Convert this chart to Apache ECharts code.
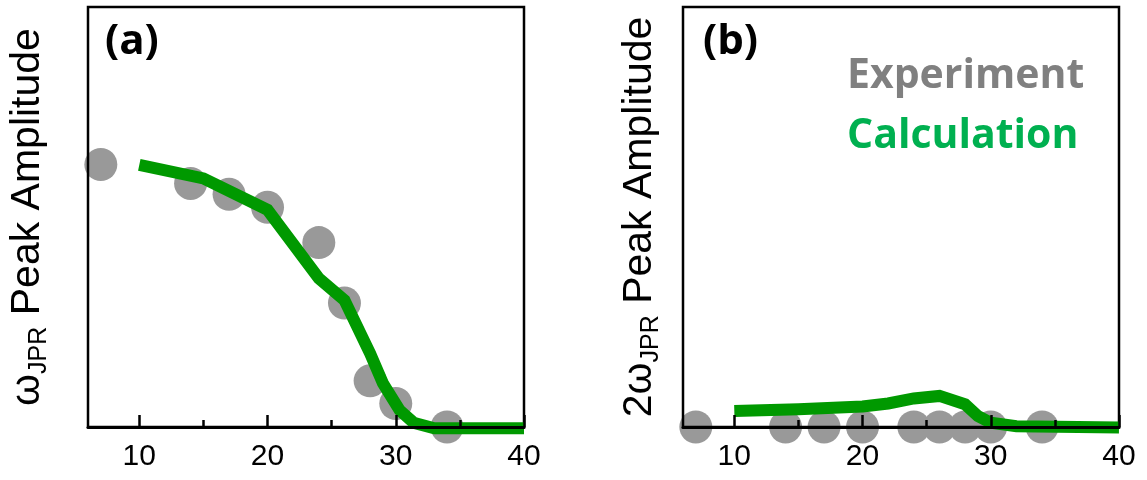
<!DOCTYPE html>
<html>
<head>
<meta charset="utf-8">
<script src="https://cdn.jsdelivr.net/npm/echarts@6/dist/echarts.min.js"></script>
<style>
  html, body { margin: 0; padding: 0; background: #fff; }
  #chart { width: 1147px; height: 480px; }
</style>
</head>
<body>
<div id="chart"></div>
<script>
// experiment points (same temperatures in both panels)
const xExp = [7, 14, 17, 20, 24, 26, 28, 30, 34];
const expA = [62.5, 58.0, 55.4, 52.3, 43.9, 29.5, 11.0, 5.6, 0];
const expB = [0, 0, 0, 0, 0, 0, 0, 0, 0];

// calculation curves
const xCalcA = [10, 15, 20, 24, 26, 28, 29, 30.3, 31.4, 33, 40];
const calcA = [62.4, 59.2, 51.7, 35.4, 30.2, 17.5, 10.4, 4.0, 1.0, -0.3, -0.3];
const xCalcB = [10, 15, 20, 22, 24, 26, 28, 29, 30, 32, 40];
const calcB = [3.8, 4.2, 4.9, 5.6, 6.8, 7.4, 5.4, 2.6, 1.0, 0.2, -0.1];

// x axis: range and ticks
const xMin = 6, xMax = 40;
const majorTicks = [10, 20, 30, 40];
const minorTicks = [15, 25, 35];
// one category per unit, only used to place the ticks
const tickCats = [];
for (let v = xMin; v <= xMax; v++) tickCats.push(String(v));

const pairs = (xs, ys) => xs.map((x, i) => [x, ys[i]]);

const chart = echarts.init(document.getElementById('chart'));

const sansFont = 'Liberation Sans, Arial, sans-serif';
const boldFont = 'Open Sans, sans-serif';

const yNameRich = {
  n: { fontSize: 41, fontFamily: sansFont, color: '#000' },
  w: { fontSize: 41, fontFamily: sansFont, color: '#000' },
  s: { fontSize: 25, fontFamily: sansFont, color: '#000', padding: [23, 0, 0, 0] }
};

function grid(left, right) {
  return {
    left: left, right: right, top: 7, bottom: 53,
    show: true, z: 3,
    borderColor: '#000', borderWidth: 2.5,
    backgroundColor: 'transparent'
  };
}

// value axis the series are drawn on
function dataAxis(idx) {
  return {
    type: 'value', gridIndex: idx, min: xMin, max: xMax, z: 10,
    axisLine: { show: true, lineStyle: { color: '#000', width: 3 } },
    axisTick: { show: false }, axisLabel: { show: false },
    splitLine: { show: false }
  };
}

// overlay axes for ticks and labels
function tickAxis(idx, list, len, labels) {
  const pick = (i, v) => list.indexOf(Number(v)) >= 0;
  return {
    type: 'category', gridIndex: idx, data: tickCats, boundaryGap: false,
    position: 'bottom', z: 10,
    axisLine: { show: false },
    axisTick: { show: true, inside: true, length: len, interval: pick,
      lineStyle: { color: '#000', width: 2.5 } },
    axisLabel: { show: labels, interval: pick, margin: 15,
      fontSize: 30, fontFamily: sansFont, color: '#000' },
    splitLine: { show: false }
  };
}

function yAxis(idx, name, gap) {
  return {
    type: 'value', gridIndex: idx, min: 0, max: 100,
    name: name, nameLocation: 'middle', nameRotate: 90, nameGap: gap,
    nameTextStyle: { rich: yNameRich },
    axisLine: { show: false }, axisTick: { show: false },
    axisLabel: { show: false }, splitLine: { show: false }
  };
}

function expSeries(xi, yi, ys) {
  return {
    name: 'Experiment', type: 'scatter', xAxisIndex: xi, yAxisIndex: yi,
    data: pairs(xExp, ys), symbolSize: 33, z: 2,
    itemStyle: { color: '#999999', opacity: 1 }
  };
}

function calcSeries(xi, yi, xs, ys) {
  return {
    name: 'Calculation', type: 'line', xAxisIndex: xi, yAxisIndex: yi,
    data: pairs(xs, ys), showSymbol: false, clip: false, z: 4,
    lineStyle: { color: '#009900', width: 12, cap: 'butt', join: 'miter' },
    itemStyle: { color: '#009900' }
  };
}

const panelTitle = { fontSize: 42, fontWeight: 'bold', fontFamily: boldFont, color: '#000' };

chart.setOption({
  animation: false,
  backgroundColor: '#fff',
  title: [
    { text: '(a)', left: 100, top: 16, textStyle: panelTitle },
    { text: '(b)', left: 698, top: 16, textStyle: panelTitle }
  ],
  legend: {
    orient: 'vertical', left: 842, top: 52, padding: 0,
    itemWidth: 0, itemHeight: 10, itemGap: 12, selectedMode: false,
    textStyle: { fontSize: 41, fontWeight: 'bold', fontFamily: boldFont, lineHeight: 48 },
    data: [
      { name: 'Experiment', icon: 'none', textStyle: { color: '#808080' } },
      { name: 'Calculation', icon: 'none', textStyle: { color: '#00b050' } }
    ]
  },
  grid: [grid(88, 623), grid(683, 28)],
  xAxis: [
    dataAxis(0), tickAxis(0, majorTicks, 12, true), tickAxis(0, minorTicks, 7, false),
    dataAxis(1), tickAxis(1, majorTicks, 12, true), tickAxis(1, minorTicks, 7, false)
  ],
  yAxis: [
    yAxis(0, '{w|ω}{s|JPR}{n| Peak Amplitude}', 36),
    yAxis(1, '{n|2}{w|ω}{s|JPR}{n| Peak Amplitude}', 19)
  ],
  series: [
    expSeries(0, 0, expA),
    calcSeries(0, 0, xCalcA, calcA),
    expSeries(3, 1, expB),
    calcSeries(3, 1, xCalcB, calcB)
  ]
});
</script>
</body>
</html>
